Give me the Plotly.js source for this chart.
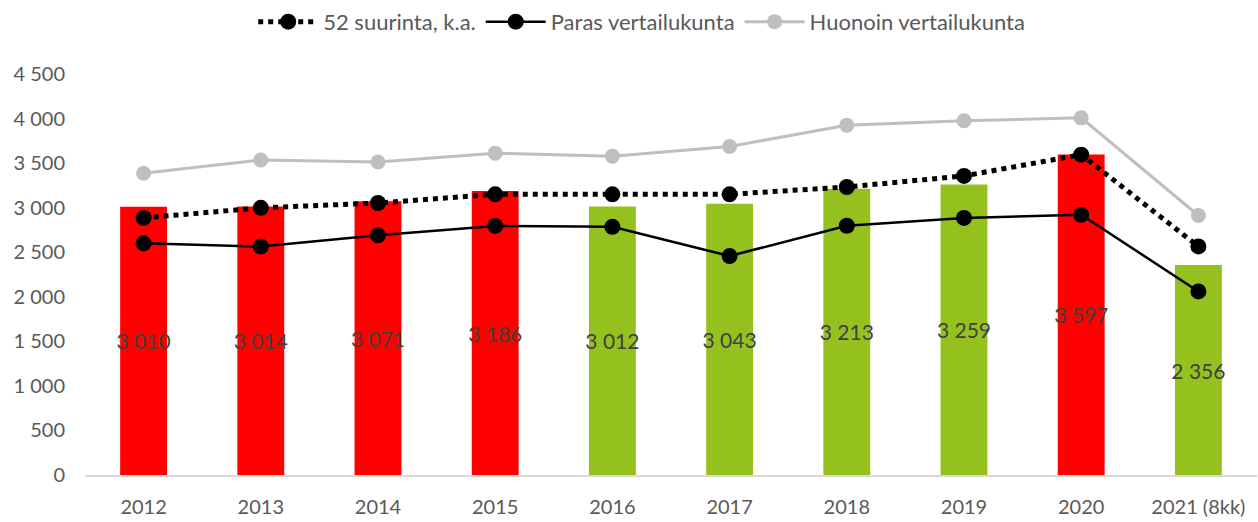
<!DOCTYPE html>
<html>
<head>
<meta charset="utf-8">
<script src="https://cdn.plot.ly/plotly-3.0.1.min.js"></script>
<style>html,body{margin:0;padding:0;background:#fff;}#chart{width:1258px;height:522px;}</style>
</head>
<body>
<div id="chart"></div>
<script>
const categories = ["2012","2013","2014","2015","2016","2017","2018","2019","2020","2021 (8kk)"];
const barValues = [3010, 3014, 3071, 3186, 3012, 3043, 3213, 3259, 3597, 2356];
const barColors = ["#FF0000","#FF0000","#FF0000","#FF0000","#95C11F","#95C11F","#95C11F","#95C11F","#FF0000","#95C11F"];
const avg52 = [2885, 2998, 3052, 3150, 3150, 3150, 3232, 3356, 3595, 2565];
const paras = [2600, 2563, 2690, 2795, 2785, 2457, 2797, 2885, 2920, 2060];
const huonoin = [3387, 3535, 3512, 3612, 3578, 3686, 3926, 3975, 4008, 2912];

const fontFam = "Lato, 'Open Sans', sans-serif";

const traces = [
  {
    type: "bar", x: categories, y: barValues, showlegend: false,
    marker: {color: barColors}, width: 0.4,
    texttemplate: "%{y:,}", textposition: "inside", insidetextanchor: "middle",
    textangle: 0, constraintext: "none",
    textfont: {family: fontFam, size: 21, color: "#404040"},
    hoverinfo: "skip"
  },
  {
    type: "scatter", mode: "lines+markers", name: "Huonoin vertailukunta",
    x: categories, y: huonoin, legendrank: 3,
    line: {color: "#BFBFBF", width: 3},
    marker: {color: "#BFBFBF", size: 15}
  },
  {
    type: "scatter", mode: "lines+markers", name: "52 suurinta, k.a.",
    x: categories, y: avg52, legendrank: 1,
    line: {color: "#000000", width: 5, dash: "dot"},
    marker: {color: "#000000", size: 16}
  },
  {
    type: "scatter", mode: "lines+markers", name: "Paras vertailukunta",
    x: categories, y: paras, legendrank: 2,
    line: {color: "#000000", width: 2.5},
    marker: {color: "#000000", size: 16}
  }
];

const layout = {
  width: 1258, height: 522,
  margin: {l: 85, r: 1, t: 68, b: 47},
  paper_bgcolor: "#fff", plot_bgcolor: "#fff",
  separators: ", ",
  font: {family: fontFam, size: 20, color: "#595959"},
  showlegend: true,
  legend: {
    orientation: "h", x: 0.475, xanchor: "center", y: 1.13, yanchor: "middle",
    traceorder: "normal", font: {family: fontFam, size: 22, color: "#595959"},
    itemwidth: 60
  },
  xaxis: {
    type: "category", range: [-0.5, 9.5], showgrid: false, zeroline: false, automargin: false,
    showline: true, linecolor: "#D9D9D9", linewidth: 2,
    ticks: "", ticklabelstandoff: 13,
    tickfont: {family: fontFam, size: 20, color: "#595959"},
    fixedrange: true
  },
  yaxis: {
    range: [0, 4500], dtick: 500, tickformat: ",", automargin: false,
    showgrid: false, zeroline: false, showline: false,
    ticks: "", ticklabelstandoff: 19,
    tickfont: {family: fontFam, size: 20, color: "#595959"},
    fixedrange: true
  },
  bargap: 0.6
};

Plotly.newPlot("chart", traces, layout, {displayModeBar: false, staticPlot: true});
</script>
</body>
</html>
